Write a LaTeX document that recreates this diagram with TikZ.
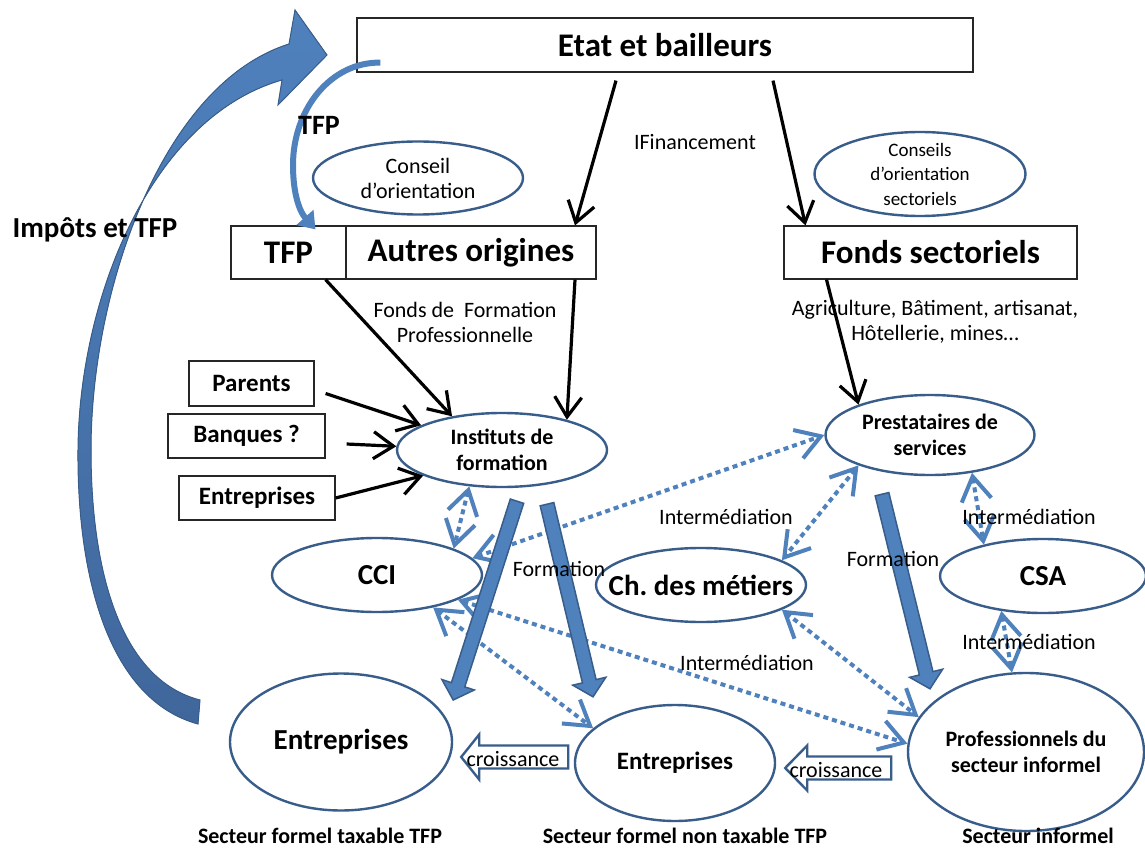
\documentclass[tikz,border=0pt]{standalone}
\usepackage{fontspec}
\setmainfont{Carlito}
\usetikzlibrary{calc}
\usetikzlibrary{arrows.meta}
\usetikzlibrary{shapes.geometric}
\definecolor{bluefill}{RGB}{79,129,189}
\definecolor{blueline}{RGB}{56,93,138}
\definecolor{bluedark}{RGB}{64,103,156}

% thick blue arrow from #1 to #2 (named coordinates)
\newcommand{\fatarrow}[2]{%
  \coordinate (hb) at ($(#2)!16pt!(#1)$);
  \filldraw[fat] ($(#1)!7pt!90:(#2)$) -- ($(hb)!7pt!90:(#2)$) -- ($(hb)!17pt!90:(#2)$) -- (#2)
    -- ($(hb)!17pt!-90:(#2)$) -- ($(hb)!7pt!-90:(#2)$) -- ($(#1)!7pt!-90:(#2)$) -- cycle;}

\begin{document}
\begin{tikzpicture}[x=1pt,y=-1pt,
    box/.style={draw=black!85, line width=1.2pt, inner sep=0pt, font=\bfseries\fontsize{33}{38}\selectfont},
    sbox/.style={box, font=\bfseries\fontsize{25}{30}\selectfont},
    ell/.style={ellipse, draw=blueline, fill=white, line width=2.4pt, inner sep=0pt, align=center}]
    \tikzset{txt/.style={font=\fontsize{22}{25}\selectfont, align=center}}
    \tikzset{btxt/.style={font=\bfseries\fontsize{22}{26}\selectfont, align=center},
    big/.style={font=\bfseries\fontsize{29}{34}\selectfont}}
    \tikzset{money/.style={draw=black, line width=3.2pt, -{Straight Barb[length=20pt,width=27pt]}},
    link/.style={draw=bluefill, line width=4pt, dash pattern=on 5pt off 4pt,
      {Straight Barb[length=24pt,width=30pt]}-{Straight Barb[length=24pt,width=30pt]}},
    fat/.style={fill=bluefill, draw=blueline, line width=1.5pt, line join=miter},
    growth/.style={draw=blueline, fill=white, line width=2.4pt}}
    \fill[white] (0,0) rectangle (1145,850);
    \useasboundingbox (0,0) rectangle (1145,850);

    % boxes
    \node[box, minimum width=616, minimum height=54] (etat) at (665,45) {Etat et bailleurs};
    \node[box, minimum width=115, minimum height=53] (tfp) at (288.5,252.5) {TFP};
    \node[box, minimum width=250, minimum height=53] (autres) at (471,252.5) {Autres origines};
    \node[box, minimum width=293, minimum height=53] (fonds) at (930.5,252.5) {Fonds sectoriels};
    \node[sbox, minimum width=125, minimum height=45] (parents) at (251.5,383.5) {Parents};
    \node[sbox, minimum width=157, minimum height=44] (banques) at (246.5,436) {Banques ?};
    \node[sbox, minimum width=156, minimum height=44] (entbox) at (257,498) {Entreprises};

    % ellipses
    \node[ell, txt, minimum width=210, minimum height=73] (cons) at (418,178) {Conseil\\d’orientation};
    \node[ell, font=\fontsize{19}{24.5}\selectfont, inner ysep=-8pt, minimum width=211, minimum height=84] (conss) at (920,174) {Conseils\\d’orientation\\sectoriels};
    \node[ell, btxt, minimum width=210, minimum height=74] (inst) at (502,450) {Instituts de\\formation};
    \node[ell, btxt, minimum width=209, minimum height=80] (prest) at (930,435) {Prestataires de\\services};
    \node[ell, big, minimum width=210, minimum height=74] (cci) at (377,575) {CCI};
    \node[ell, big, inner xsep=-20pt, minimum width=210, minimum height=74] (metiers) at (701,585) {Ch.\ des métiers};
    \node[ell, big, minimum width=206, minimum height=74] (csa) at (1043,576) {CSA};
    \node[ell, big, minimum width=222, minimum height=137] (entA) at (341,742) {Entreprises};
    \node[ell, btxt, font=\bfseries\fontsize{25}{30}\selectfont, minimum width=200, minimum height=116] (entB) at (675,763) {Entreprises};
    \node[ell, btxt, minimum width=236, minimum height=158] (prof) at (1026,752) {Professionnels du\\secteur informel};

    % impots et TFP
    \filldraw[top color=bluefill, bottom color=bluedark, draw=blueline, line width=1pt]
      (198,724) .. controls (110,700) and (77,580) .. (78,450) .. controls (79,300) and (150,118) .. (282,80)
      -- (278,105) -- (327,55) -- (295,10) -- (289,44)
      .. controls (162,84) and (91,290) .. (91,450) .. controls (91,575) and (122,680) .. (200,700) -- cycle;
    \draw[draw=bluefill, line width=6pt, -{Triangle[length=16pt,width=22pt]}]
      ($(etat.south west)+(24,-10)$) .. controls (330,62) and (293,110) .. (293,165)
      .. controls (293,195) and (300,212) .. ($(tfp.north)+(27,4)$);

    % financement
    \draw[money] ($(etat.south)+(-49,8)$) -- ($(autres.north)+(104,0)$);
    \draw[money] ($(etat.south)+(108,8)$) -- ($(fonds.north)+(-125,0)$);
    \draw[money] ($(tfp.south)+(37,0)$) -- (inst.146);
    \draw[money] ($(autres.south)+(104,0)$) -- (inst.25);
    \draw[money] ($(fonds.south)+(-104,0)$) -- (prest.157);
    \draw[money] ($(parents.east)+(11,10)$) -- (inst.163);
    \draw[money] ($(banques.east)+(21,8)$) -- (inst.178);
    \draw[money] (entbox.east) -- (inst.198);

    % intermediation
    \draw[link] (inst.228) -- (cci.19);
    \draw[link] (cci.10) -- (prest.180);
    \draw[link] (prest.203) -- (metiers.17);
    \draw[link] (prest.318) -- (csa.152);
    \draw[link] (csa.220) -- (prof.100);
    \draw[link] (metiers.343) -- (prof.162);
    \draw[link] (cci.343) -- (prof.176);
    \draw[link] (cci.330) -- (entB.157);

    % formation
    \coordinate (f1a) at ($(inst.south)+(15,13)$);
    \coordinate (f1b) at ($(entA.east)+(0,-42)$);
    \coordinate (f2a) at ($(inst.south)+(45,16)$);
    \coordinate (f2b) at ($(entB.north)+(-82,-7)$);
    \coordinate (f3a) at ($(prest.south)+(-48,18)$);
    \coordinate (f3b) at ($(prof.north)+(-96,17)$);
    \fatarrow{f1a}{f1b}
    \fatarrow{f2a}{f2b}
    \fatarrow{f3a}{f3b}

    % croissance
    \draw[growth] ($(entA.east)+(8,15)$) -- ++(18,-22.5) -- ++(0,11) -- ++(89,0) -- ++(0,23) -- ++(-89,0) -- ++(0,11) -- cycle;
    \draw[growth] ($(entB.east)+(9,5)$) -- ++(22,-22.5) -- ++(0,11) -- ++(84,0) -- ++(0,23) -- ++(-84,0) -- ++(0,11) -- cycle;

    % labels
    \node[txt] (cr1) at (513,759) {croissance};
    \node[txt] (cr2) at (836,770) {croissance};
    \node[txt] (finan) at (695,142) {IFinancement};
    \node[font=\bfseries\fontsize{28}{32}\selectfont] (tfplab) at (319,125) {TFP};
    \node[big] (impots) at (95,230) {Impôts et TFP};
    \node[txt] (ffp) at (465,322) {Fonds de~~Formation\\Professionnelle};
    \node[txt] (secteurs) at (935,322) {Agriculture, Bâtiment, artisanat,\\Hôtellerie, mines…};
    \node[txt] (int1) at (726,517) {Intermédiation};
    \node[txt] (int2) at (1029,517) {Intermédiation};
    \node[txt] (int3) at (747,663) {Intermédiation};
    \node[txt] (int4) at (1029,642) {Intermédiation};
    \node[txt] (form1) at (559,569) {Formation};
    \node[txt] (form2) at (893,559) {Formation};
    \node[btxt] (sec1) at (320,836) {Secteur formel taxable TFP};
    \node[btxt] (sec2) at (685,836) {Secteur formel non taxable TFP};
    \node[btxt] (sec3) at (1038,836) {Secteur informel};
\end{tikzpicture}
\end{document}
